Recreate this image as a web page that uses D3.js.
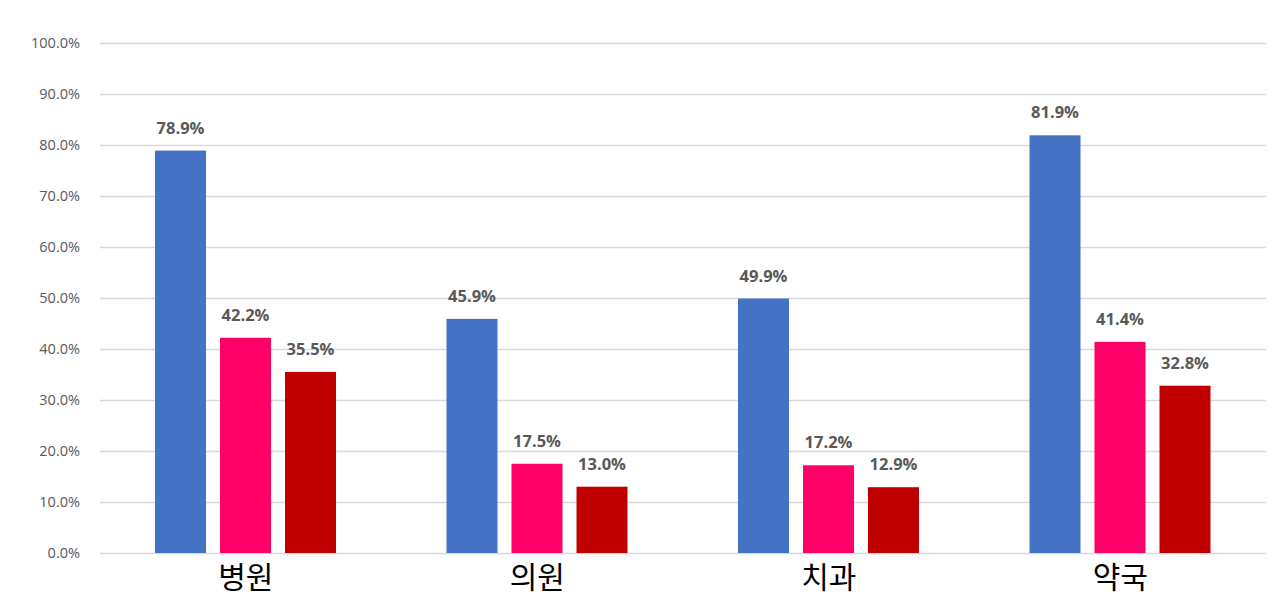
<!DOCTYPE html>
<html><head><meta charset="utf-8">
<script src="https://cdn.jsdelivr.net/npm/d3@7"></script>
<style>body{margin:0;background:#fff}svg{display:block}</style>
</head><body>
<svg id="c" width="1280" height="608"></svg>
<script>
const categories = ["병원", "의원", "치과", "약국"];
const seriesNames = ["s1", "s2", "s3"];
const seriesA = [78.9, 45.9, 49.9, 81.9];
const seriesB = [42.2, 17.5, 17.2, 41.4];
const seriesC = [35.5, 13.0, 12.9, 32.8];
const yTicks = [0, 10, 20, 30, 40, 50, 60, 70, 80, 90, 100];
const colors = ["#4472C4", "#FF0066", "#C00000"];

const allSeries = [seriesA, seriesB, seriesC];
const svg = d3.select("#c");
const mLeft = 100, mRight = 1266, mTop = 43, mBottom = 553;

const y = d3.scaleLinear().domain([0, 100]).range([mBottom, mTop]);
const x0 = d3.scaleBand().domain(categories).range([mLeft, mRight]).padding(0);
const x1 = d3.scaleBand().domain(seriesNames).range([55, 236]).paddingInner(14/65).paddingOuter(0);

// gridlines
const yAxis = d3.axisLeft(y).tickValues(yTicks).tickSize(-(mRight-mLeft)).tickPadding(20)
  .tickFormat(d => d.toFixed(1) + "%");
const ga = svg.append("g").attr("transform", `translate(${mLeft},0)`).call(yAxis);
ga.select(".domain").remove();
ga.selectAll(".tick line").attr("stroke", "#d9d9d9").attr("stroke-width", 1.5);
ga.selectAll(".tick text").attr("fill", "#595959").attr("font-size", 14.5)
  .attr("font-family", "'Open Sans', 'Noto Sans', sans-serif");

const groups = svg.selectAll("g.grp").data(categories).enter().append("g")
  .attr("class", "grp").attr("transform", d => `translate(${x0(d)},0)`);

groups.each(function(cat, ci) {
  const g = d3.select(this);
  seriesNames.forEach((s, si) => {
    const v = allSeries[si][ci];
    g.append("rect").attr("x", x1(s)).attr("width", x1.bandwidth())
      .attr("y", y(v)).attr("height", y(0) - y(v)).attr("fill", colors[si]);
    g.append("text").attr("x", x1(s) + x1.bandwidth()/2).attr("y", y(v) - 17)
      .attr("text-anchor", "middle").attr("font-size", 16.5).attr("font-weight", "bold")
      .attr("fill", "#595959").attr("font-family", "'Open Sans', 'Noto Sans', sans-serif")
      .text(v.toFixed(1) + "%");
  });
});

// category labels
const xAxis = d3.axisBottom(x0).tickSize(0).tickPadding(14);
const gx = svg.append("g").attr("transform", `translate(0,${mBottom})`).call(xAxis);
gx.select(".domain").remove();
gx.selectAll(".tick text").attr("fill", "#000").attr("font-size", 30)
  .attr("font-family", "'Noto Sans CJK KR', sans-serif");
</script>
</body></html>
